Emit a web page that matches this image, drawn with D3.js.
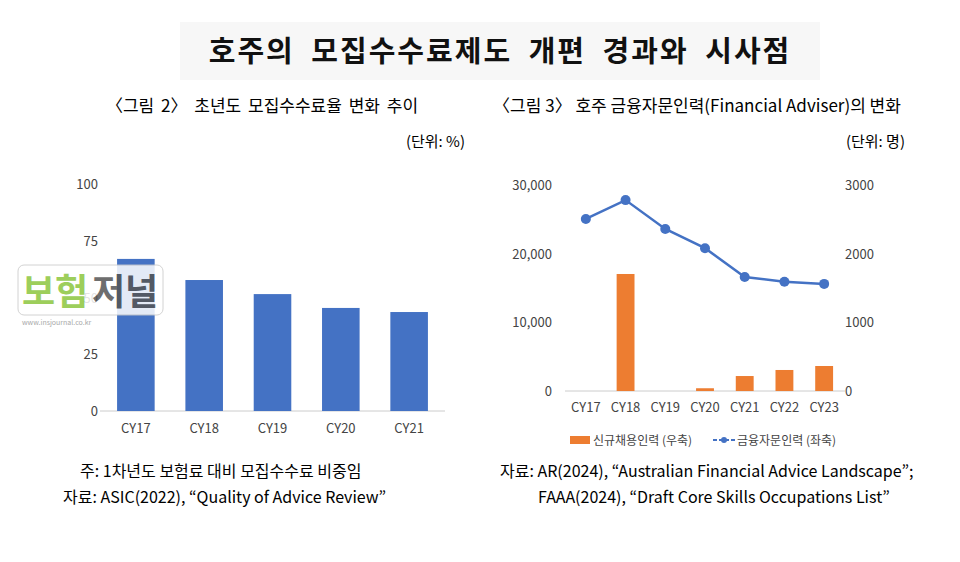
<!DOCTYPE html>
<html><head><meta charset="utf-8">
<script src="https://cdn.jsdelivr.net/npm/d3@7"></script>
<style>body{margin:0;background:#fff}text{font-family:"Noto Sans CJK KR","Noto Sans",sans-serif}</style>
</head><body>
<svg id="c" width="960" height="562"></svg>
<script>
const leftCats=["CY17","CY18","CY19","CY20","CY21"];
const leftVals=[67,57.7,51.5,45.4,43.6];
const leftTicks=[0,25,50,75,100];
const rightCats=["CY17","CY18","CY19","CY20","CY21","CY22","CY23"];
const advisers=[25050,27800,23600,20800,16600,15900,15600];
const newHires=[0,1704,0,40,218,306,364];
const rightLeftTicks=[0,10000,20000,30000];
const rightRightTicks=[0,1000,2000,3000];

const svg=d3.select("#c");
svg.append("rect").attr("x",180).attr("y",22).attr("width",640).attr("height",58).attr("fill","#f7f7f7");
svg.append("text").attr("x",500).attr("y",62).attr("text-anchor","middle").attr("font-size",29).attr("letter-spacing",2).attr("word-spacing",8).attr("font-weight","bold").attr("fill","#111").text("호주의 모집수수료제도 개편 경과와 시사점");

// left chart
svg.append("text").attr("x",262).attr("y",112).attr("text-anchor","middle").attr("font-size",17).attr("word-spacing",3).text("〈그림 2〉 초년도 모집수수료율 변화 추이");
svg.append("text").attr("x",465).attr("y",147).attr("text-anchor","end").attr("font-size",15).text("(단위: %)");
const lx=d3.scaleBand().domain(leftCats).range([100,445]).paddingInner(0.45).paddingOuter(0.25);
const ly=d3.scaleLinear().domain([0,100]).range([411,184]);
const gL=svg.append("g");
gL.selectAll("text.t").data(leftTicks).join("text").attr("x",98).attr("y",d=>ly(d)+5).attr("text-anchor","end").attr("font-size",13).attr("fill","#444").text(d=>d);
gL.append("line").attr("x1",100).attr("x2",445).attr("y1",411).attr("y2",411).attr("stroke","#ccc");
gL.selectAll("rect").data(leftVals).join("rect").attr("x",(d,i)=>lx(leftCats[i])).attr("width",lx.bandwidth()).attr("y",d=>ly(d)).attr("height",d=>411-ly(d)).attr("fill","#4472c4");
gL.selectAll("text.c").data(leftCats).join("text").attr("x",d=>lx(d)+lx.bandwidth()/2).attr("y",433).attr("text-anchor","middle").attr("font-size",13).attr("fill","#444").text(d=>d);
svg.append("text").attr("x",80).attr("y",477).attr("font-size",16).text("주: 1차년도 보험료 대비 모집수수료 비중임");
svg.append("text").attr("x",63).attr("y",503).attr("font-size",16).text("자료: ASIC(2022), “Quality of Advice Review”");

// right chart
svg.append("text").attr("x",697).attr("y",112).attr("text-anchor","middle").attr("font-size",17).text("〈그림 3〉 호주 금융자문인력(Financial Adviser)의 변화");
svg.append("text").attr("x",905).attr("y",147).attr("text-anchor","end").attr("font-size",15).text("(단위: 명)");
const rx=d3.scaleBand().domain(rightCats).range([565,845]).paddingInner(0.55).paddingOuter(0.3);
const ry=d3.scaleLinear().domain([0,30000]).range([391,185]);
const ry2=d3.scaleLinear().domain([0,3000]).range([391,185]);
const gR=svg.append("g");
gR.selectAll("text.l").data(rightLeftTicks).join("text").attr("x",552).attr("y",d=>ry(d)+5).attr("text-anchor","end").attr("font-size",13).attr("fill","#444").text(d=>d3.format(",")(d));
gR.selectAll("text.r").data(rightRightTicks).join("text").attr("x",845).attr("y",d=>ry2(d)+5).attr("font-size",13).attr("fill","#444").text(d=>d);
gR.append("line").attr("x1",565).attr("x2",845).attr("y1",391).attr("y2",391).attr("stroke","#ccc");
gR.selectAll("rect").data(newHires).join("rect").attr("x",(d,i)=>rx(rightCats[i])).attr("width",rx.bandwidth()).attr("y",d=>ry2(d)).attr("height",d=>391-ry2(d)).attr("fill","#ed7d31");
const cx=d=>rx(d)+rx.bandwidth()/2;
gR.append("path").datum(advisers).attr("fill","none").attr("stroke","#4472c4").attr("stroke-width",2.5)
 .attr("d",d3.line().x((d,i)=>cx(rightCats[i])).y(d=>ry(d)));
gR.selectAll("circle").data(advisers).join("circle").attr("cx",(d,i)=>cx(rightCats[i])).attr("cy",d=>ry(d)).attr("r",5).attr("fill","#4472c4");
gR.selectAll("text.c").data(rightCats).join("text").attr("x",d=>cx(d)).attr("y",412).attr("text-anchor","middle").attr("font-size",13).attr("fill","#444").text(d=>d);
svg.append("rect").attr("x",570).attr("y",436).attr("width",20).attr("height",8).attr("fill","#ed7d31");
svg.append("text").attr("x",593).attr("y",445).attr("font-size",12).attr("fill","#444").text("신규채용인력 (우축)");
svg.append("line").attr("x1",713).attr("x2",735).attr("y1",440).attr("y2",440).attr("stroke","#4472c4").attr("stroke-width",2).attr("stroke-dasharray","4,2");
svg.append("circle").attr("cx",724).attr("cy",440).attr("r",3).attr("fill","#4472c4");
svg.append("text").attr("x",737).attr("y",445).attr("font-size",12).attr("fill","#444").text("금융자문인력 (좌축)");
svg.append("text").attr("x",500).attr("y",477).attr("font-size",16).text("자료: AR(2024), “Australian Financial Advice Landscape”;");
svg.append("text").attr("x",538).attr("y",503).attr("font-size",16).text("FAAA(2024), “Draft Core Skills Occupations List”");

// watermark
const wm=svg.append("g").attr("opacity",0.85);
wm.append("rect").attr("x",18).attr("y",265).attr("width",145).attr("height",50).attr("rx",6).attr("fill","#fff").attr("stroke","#ccc");
wm.append("text").attr("x",22).attr("y",305).attr("font-size",36).attr("font-weight","bold").attr("fill","#8dc63f").text("보험");
wm.append("text").attr("x",92).attr("y",305).attr("font-size",36).attr("font-weight","bold").attr("fill","#555").text("저널");
wm.append("text").attr("x",22).attr("y",325).attr("font-size",7).attr("fill","#999").text("www.insjournal.co.kr");
</script>
</body></html>
